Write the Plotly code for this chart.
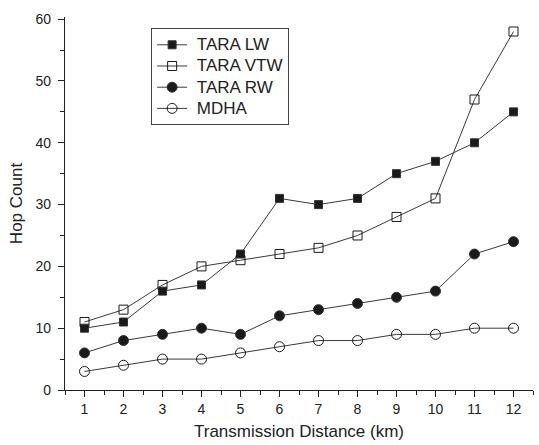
import plotly.graph_objects as go

distance = [1, 2, 3, 4, 5, 6, 7, 8, 9, 10, 11, 12]
tara_lw = [10, 11, 16, 17, 22, 31, 30, 31, 35, 37, 40, 45]
tara_vtw = [11, 13, 17, 20, 21, 22, 23, 25, 28, 31, 47, 58]
tara_rw = [6, 8, 9, 10, 9, 12, 13, 14, 15, 16, 22, 24]
mdha = [3, 4, 5, 5, 6, 7, 8, 8, 9, 9, 10, 10]

series = [
    ("TARA LW", tara_lw, "square", 8),
    ("TARA VTW", tara_vtw, "square-open", 9),
    ("TARA RW", tara_rw, "circle", 10),
    ("MDHA", mdha, "circle-open", 10),
]

fig = go.Figure()
for name, vals, sym, sz in series:
    fig.add_trace(go.Scatter(
        x=distance, y=vals,
        name='<span style="font-size:17px">&nbsp;' + name + '</span>',
        mode="lines+markers",
        line=dict(color="#3a3a3a", width=1),
        marker=dict(symbol=sym, size=sz, color="#1a1a1a",
                    line=dict(color="#333333", width=1)),
    ))

axis_font = dict(family="Liberation Sans, Arial, sans-serif", size=14, color="#222")
fig.update_layout(
    width=539, height=445,
    margin=dict(l=65, r=6, t=17, b=55),
    paper_bgcolor="white", plot_bgcolor="white",
    font=dict(family="Liberation Sans, Arial, sans-serif", color="#222"),
    showlegend=True,
    legend=dict(x=0.184, y=0.97, xanchor="left", yanchor="top",
                bordercolor="#444", borderwidth=1, bgcolor="white",
                font=dict(size=14, color="#222"), itemwidth=30,
                entrywidth=135, tracegroupgap=0),
    xaxis=dict(range=[0.5, 12.5], tickmode="array", tickvals=distance,
               ticktext=[str(d) for d in distance],
               ticks="outside", ticklen=6, tickwidth=1, tickcolor="#222",
               minor=dict(ticks="outside", ticklen=4, dtick=0.5, tick0=0.5, tickcolor="#222"),
               showline=True, linecolor="#222", linewidth=1.2,
               showgrid=False, zeroline=False, tickfont=axis_font,
               ticklabelstandoff=0, automargin=False,
               title=dict(text="Transmission Distance (km)", font=dict(size=17), standoff=9)),
    yaxis=dict(range=[0, 60.35], tickmode="linear", tick0=0, dtick=10,
               ticks="outside", ticklen=6, tickwidth=1, tickcolor="#222",
               minor=dict(ticks="outside", ticklen=4, dtick=5, tickcolor="#222"),
               showline=True, linecolor="#222", linewidth=1.2,
               showgrid=False, zeroline=False, tickfont=axis_font,
               ticklabelstandoff=4, automargin=False,
               title=dict(text="Hop Count", font=dict(size=17), standoff=8)),
)

fig.write_html("out.html", config={"displayModeBar": False},
               post_script="document.body.style.margin='0';document.body.style.padding='0';")
